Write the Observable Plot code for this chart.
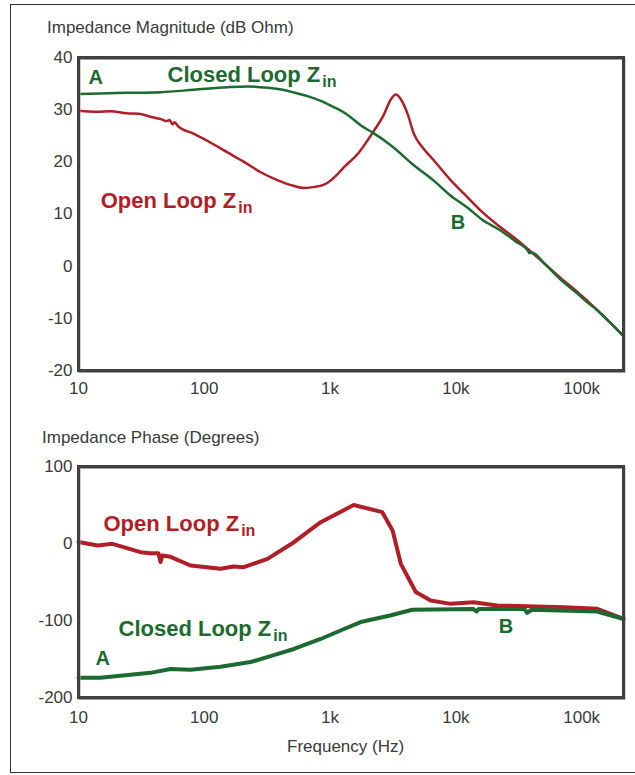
<!DOCTYPE html>
<html>
<head>
<meta charset="utf-8">
<script src="https://cdn.jsdelivr.net/npm/d3@7"></script>
<script src="https://cdn.jsdelivr.net/npm/@observablehq/plot@0.6"></script>
<style>
  html, body { margin: 0; padding: 0; background: #fff; }
  #wrap { position: relative; width: 635px; height: 775px; overflow: hidden; font-family: "Liberation Sans", Arial, sans-serif; }
  #border { position: absolute; left: 10px; top: 4px; width: 640px; height: 767px; border: 1px solid #333; }
  .title { position: absolute; font-size: 17px; line-height: 17px; color: #3a3a3a; white-space: nowrap; }
  .chart { position: absolute; left: 0; }
</style>
</head>
<body>
<div id="wrap">
  <div id="border"></div>
  <div class="title" style="left:47px; top:19px;">Impedance Magnitude (dB Ohm)</div>
  <div class="title" style="left:42px; top:429px;">Impedance Phase (Degrees)</div>
  <div class="title" style="left:287px; top:738px;">Frequency (Hz)</div>
  <div class="chart" id="top" style="top:40px;"></div>
  <div class="chart" id="bottom" style="top:450px;"></div>
</div>
<script>
// ---------- data ----------
const freqTicks = [10, 100, 1000, 10000, 100000];
const freqTickLabels = ["10", "100", "1k", "10k", "100k"];
const magTicks = [-20, -10, 0, 10, 20, 30, 40];
const phaseTicks = [-200, -100, 0, 100];

// Magnitude (dB Ohm) vs frequency (Hz)
const closedMagFreq = [10, 20, 30, 45, 82, 153, 221, 319, 420, 513, 660, 842, 1070, 1280, 1500, 1750, 2180, 2700, 3210, 4500, 6670, 9000, 12400, 16000, 22800, 30000, 37300, 38500, 40000, 52000, 68300, 90000, 120000, 125000, 128000, 160000, 215000];
const closedMagDb   = [33.0, 33.2, 33.25, 33.35, 33.8, 34.3, 34.45, 34.2, 33.8, 33.3, 32.6, 31.7, 30.5, 29.5, 28.3, 27.0, 25.6, 24.1, 22.7, 19.6, 16.4, 13.6, 11.2, 9.0, 6.8, 4.7, 3.0, 2.5, 2.6, 0.2, -2.6, -5.0, -7.6, -7.9, -8.1, -10.3, -13.4];

const openMagFreq = [10, 14, 18, 24, 30, 38, 45, 50, 53, 56, 58, 62, 82, 110, 153, 210, 281, 380, 513, 617, 760, 957, 1100, 1280, 1670, 2180, 2670, 3030, 3330, 3650, 4170, 4630, 5500, 6670, 9000, 12400, 16000, 22800, 30000, 37300, 50000, 68300, 90000, 125000, 160000, 215000];
const openMagDb   = [29.8, 29.6, 29.7, 29.3, 29.2, 28.6, 28.2, 27.8, 28.0, 27.2, 27.6, 26.8, 25.4, 23.8, 21.8, 19.9, 18.0, 16.5, 15.4, 15.0, 15.2, 16.0, 17.2, 18.9, 21.6, 25.6, 29.0, 31.9, 32.9, 32.0, 28.9, 25.4, 22.6, 20.3, 16.6, 13.2, 10.5, 7.4, 5.2, 3.3, 0.6, -2.3, -4.7, -7.8, -10.3, -13.4];

// Phase (degrees) vs frequency (Hz)
const openPhFreq = [10, 14.2, 18.6, 31.1, 37.3, 43.2, 44.9, 46.3, 53.9, 77.7, 134.6, 171, 206, 318, 516, 842, 1540, 2600, 3140, 3650, 4800, 6300, 9100, 13800, 21300, 72600, 133000, 215000];
const openPhDeg  = [2, -2.6, -0.4, -11.3, -12.6, -12.6, -24, -15.6, -17.3, -28.6, -32.9, -29.9, -30.7, -19.9, 1.7, 27.7, 50, 40.7, 16.9, -26.4, -63, -74, -78.4, -76.2, -80.5, -82.7, -84.8, -98];

const closedPhFreq = [10, 14.9, 37.3, 53.9, 77.7, 134.6, 233, 357, 516, 842, 1290, 1750, 3000, 4500, 13800, 14600, 15200, 35000, 36800, 40200, 133000, 215000];
const closedPhDeg  = [-174.4, -174.4, -168, -163, -164, -160, -154, -145, -137, -124, -111, -102, -93.5, -86, -85, -88.3, -85, -85, -90, -86, -88.3, -98];

// Annotations (text, frequency, value)
const topGreenLabels = [{t: "A", f: 12.0, v: 36.2}, {t: "Closed Loop Z", f: 51, v: 36.7, sub: "in"}, {t: "B", f: 9100, v: 8.4}];
const topRedLabels   = [{t: "Open Loop Z", f: 15.0, v: 12.5, sub: "in"}];
const botGreenLabels = [{t: "A", f: 13.65, v: -150}, {t: "Closed Loop Z", f: 20.8, v: -110.4, sub: "in"}, {t: "B", f: 21900, v: -108}];
const botRedLabels   = [{t: "Open Loop Z", f: 15.8, v: 26, sub: "in"}];

// ---------- build ----------
const GREEN = "#1c6a30";
const RED = "#b01e27";
const zip = (fs, vs) => fs.map((f, i) => ({f, v: vs[i]}));
const tickFmt = d => freqTickLabels[freqTicks.indexOf(d)] ?? "";

function labelMarks(arr, color) {
  return [
    Plot.text(arr.filter(d => d.t.length === 1), {x: "f", y: "v", text: "t", fill: color, fontWeight: "bold", fontSize: 20, textAnchor: "start", lineAnchor: "middle"}),
    Plot.text(arr.filter(d => d.t.length > 1), {x: "f", y: "v", text: "t", fill: color, fontWeight: "bold", fontSize: 22, textAnchor: "start", lineAnchor: "middle"})
  ];
}

function makeChart({height, marginTop, marginBottom, yDomain, yTicks, series, labels, lineWidth, xPad, curve}) {
  return Plot.plot({
    width: 635, height, marginTop, marginBottom, marginLeft: 78, marginRight: 12,
    style: {fontFamily: "Liberation Sans, Arial, sans-serif", fontSize: "17px", color: "#3a3a3a", background: "transparent", overflow: "visible"},
    x: {type: "log", domain: [10, 215000], ticks: freqTicks, tickFormat: tickFmt, tickSize: 0, tickPadding: xPad, label: null},
    y: {domain: yDomain, ticks: yTicks, tickFormat: d => String(d), tickSize: 0, tickPadding: 6, label: null},
    marks: [
      ...series.map(s => Plot.line(s.data, {x: "f", y: "v", stroke: s.color, strokeWidth: lineWidth, strokeLinejoin: "round", strokeLinecap: "round", curve})),
      Plot.frame({stroke: "#a0a0a0", strokeWidth: 2, dx: 1, dy: 1.5}),
      Plot.frame({stroke: "#404040", strokeWidth: 3}),
      ...labels.flatMap(l => labelMarks(l.data, l.color))
    ]
  });
}

const topChart = makeChart({
  height: 370, marginTop: 17, marginBottom: 40, yDomain: [-20, 40], yTicks: magTicks, lineWidth: 2.5, xPad: 11, curve: "monotone-x",
  series: [{data: zip(openMagFreq, openMagDb), color: RED}, {data: zip(closedMagFreq, closedMagDb), color: GREEN}],
  labels: [{data: topGreenLabels, color: GREEN}, {data: topRedLabels, color: RED}]
});
const botChart = makeChart({
  height: 300, marginTop: 16, marginBottom: 53, yDomain: [-200, 100], yTicks: phaseTicks, lineWidth: 4, xPad: 13, curve: "linear",
  series: [{data: zip(openPhFreq, openPhDeg), color: RED}, {data: zip(closedPhFreq, closedPhDeg), color: GREEN}],
  labels: [{data: botGreenLabels, color: GREEN}, {data: botRedLabels, color: RED}]
});

// subscripts "in"
for (const [svg, arrs] of [[topChart, [...topGreenLabels, ...topRedLabels]], [botChart, [...botGreenLabels, ...botRedLabels]]]) {
  d3.select(svg).selectAll("text").each(function () {
    const el = d3.select(this);
    const hit = arrs.find(a => a.sub && a.t === this.textContent);
    if (hit && this.childElementCount === 0) {
      el.append("tspan").attr("dx", 2).attr("dy", 5).attr("font-size", 16).text(hit.sub);
    }
  });
}

document.getElementById("top").appendChild(topChart);
document.getElementById("bottom").appendChild(botChart);
</script>
</body>
</html>
